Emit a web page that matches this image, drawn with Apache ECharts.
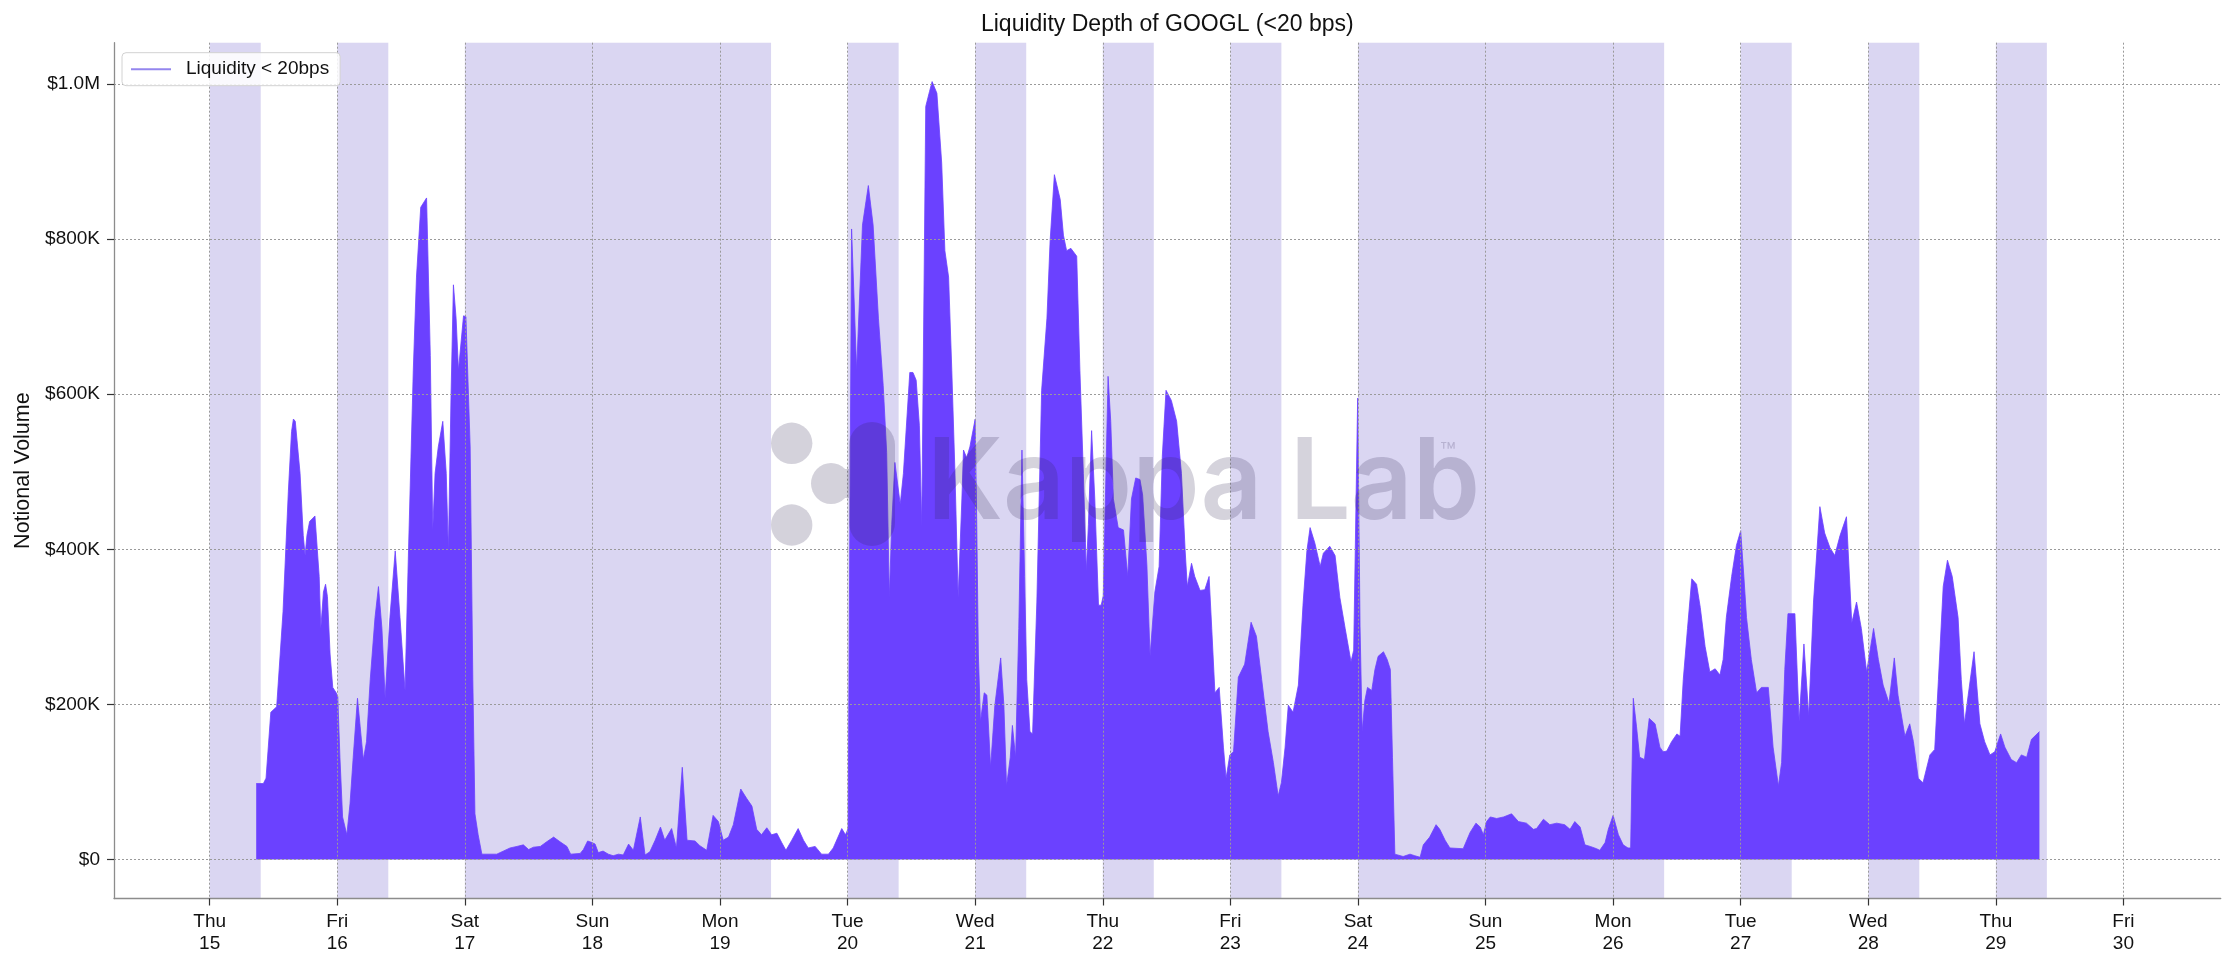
<!DOCTYPE html>
<html>
<head>
<meta charset="utf-8">
<script src="https://cdn.jsdelivr.net/npm/echarts@6/dist/echarts.min.js"></script>
<style>
html,body{margin:0;padding:0;background:#fff;}
#chart{width:2232px;height:969px;}
</style>
</head>
<body>
<div id="chart"></div>
<script>
// ---------- tick labels ----------
const dayNames = ['Thu','Fri','Sat','Sun','Mon','Tue','Wed','Thu','Fri','Sat','Sun','Mon','Tue','Wed','Thu','Fri'];
const dayNums  = ['15','16','17','18','19','20','21','22','23','24','25','26','27','28','29','30'];
const xTickHours = [0,24,48,72,96,120,144,168,192,216,240,264,288,312,336,360];
const yTickValues = [0,200000,400000,600000,800000,1000000];
const yTickLabels = ['$0','$200K','$400K','$600K','$800K','$1.0M'];

// shaded (closed-market) periods, hours since Thu 15 00:00
const closedBands = [[0,9.6],[24,33.6],[48,105.6],[120,129.6],[144,153.6],[168,177.6],
                     [192,201.6],[216,273.6],[288,297.6],[312,321.6],[336,345.6]];

// ---------- data: [hour of day, notional volume in $K] ----------
const thu15 = [[8.75,98],[10.1,98],[10.6,105],[11.5,190],[12.6,197],[13.8,320],[14.8,475],[15.4,552],[15.75,568],[16.1,565],[17.0,498],[17.6,418],[17.95,392],[18.3,418],[18.8,436],[19.8,443],[20.1,442],[20.6,365],[20.9,298],[21.4,345],[21.8,355],[22.15,339],[22.65,265],[23.15,222],[23.8,215]];
const fri16 = [[0.1,210],[0.5,132],[1.0,55],[1.8,32],[2.4,72],[3.0,132],[3.8,208],[4.3,172],[4.9,129],[5.5,152],[6.2,232],[7.1,312],[7.75,352],[8.4,298],[9.0,208],[9.9,312],[10.9,398],[11.8,312],[12.75,218],[13.4,398],[14.3,631],[14.9,751],[15.7,841],[16.8,853],[17.5,650],[17.96,425],[18.4,498],[19.0,532],[19.85,565],[20.5,498],[20.9,398],[21.4,598],[21.85,741],[22.35,698],[22.8,631],[23.75,701]];
const sat17 = [[0.2,700],[1.0,532],[1.5,232],[1.9,59],[2.5,32],[3.2,7],[6.0,7],[8.5,15],[9.8,17],[11.0,19],[12.0,13],[12.9,16],[14.2,17],[15.4,23],[16.7,29],[17.9,23],[19.2,17],[19.9,7],[21.7,8],[22.3,13],[23.1,24],[23.9,22]];
const sun18 = [[0.5,20],[1.1,9],[2.0,11],[3.0,7],[3.9,5],[4.9,7],[5.8,6],[6.8,20],[7.7,12],[9.0,55],[9.9,6],[10.8,10],[11.8,25],[12.8,42],[13.6,25],[14.9,40],[15.8,15],[16.9,119],[17.8,25],[19.3,24],[20.2,18],[21.5,12],[22.7,57],[23.7,49]];
const mon19 = [[0.6,25],[1.6,29],[2.5,45],[3.9,91],[5.0,79],[6.0,69],[6.9,39],[7.8,32],[8.8,41],[9.7,32],[10.7,34],[11.6,22],[12.4,12],[13.5,25],[14.7,40],[15.7,25],[16.6,15],[17.9,17],[19.1,7],[20.4,7],[21.3,15],[22.9,40],[23.6,32]];
const tue20 = [[0.1,40],[0.75,813],[1.7,631],[2.8,818],[3.9,869],[4.8,818],[5.8,698],[6.7,611],[7.35,525],[7.85,338],[8.3,432],[8.9,512],[9.9,458],[10.5,498],[11.7,628],[12.3,628],[12.9,618],[13.5,560],[13.95,430],[14.7,971],[15.4,990],[15.9,1003],[16.8,988],[17.7,898],[18.3,785],[19.0,751],[19.6,631],[20.2,498],[20.8,338],[21.5,465],[21.8,528],[22.4,518],[23.0,532]];
const wed21 = [[0.0,568],[0.3,432],[0.6,265],[1.0,178],[1.7,215],[2.2,212],[2.9,119],[3.7,199],[4.8,260],[5.4,199],[5.9,95],[6.6,132],[7.0,173],[7.6,132],[8.2,298],[8.8,528],[9.3,365],[9.7,232],[10.3,165],[10.8,162],[11.6,332],[12.5,605],[13.5,698],[14.1,798],[14.9,883],[16.0,851],[16.6,805],[17.2,785],[18.0,788],[19.1,778],[19.7,631],[20.35,498],[20.9,372],[21.3,432],[21.9,553],[22.5,465],[23.2,328],[23.7,328]];
const thu22 = [[0.1,340],[1.0,623],[1.5,565],[2.0,465],[2.9,428],[3.9,425],[4.7,365],[5.4,465],[6.2,492],[7.0,490],[7.5,470],[8.3,380],[8.9,262],[9.8,345],[10.6,378],[11.2,520],[11.9,605],[12.9,592],[13.9,565],[14.8,498],[15.5,398],[15.9,352],[16.7,382],[17.3,365],[18.3,347],[19.2,348],[20.0,365],[20.5,298],[21.1,215],[21.9,222],[22.7,145],[23.2,105],[23.9,135]];
const fri23 = [[0.6,139],[1.5,235],[2.7,252],[3.9,306],[4.9,288],[5.9,232],[7.1,165],[8.1,125],[9.0,82],[9.6,99],[10.3,145],[10.9,199],[11.8,190],[12.8,225],[13.7,332],[14.4,398],[15.0,428],[15.9,408],[16.9,378],[17.5,395],[18.7,404],[19.7,392],[20.6,338],[21.6,298],[22.7,255],[23.2,270],[23.95,595]];
const sat24 = [[0.4,300],[0.8,165],[1.3,205],[1.8,222],[2.6,218],[3.2,245],[3.8,262],[4.8,268],[5.5,258],[6.1,245],[6.5,132],[6.95,7],[8.5,4],[9.8,7],[10.7,5],[11.7,3],[12.3,19],[13.5,29],[14.7,45],[15.4,39],[16.4,25],[17.3,15],[19.8,14],[21.1,35],[22.2,47],[23.0,42],[23.6,32]];
const sun25 = [[0.2,49],[0.9,55],[2.1,53],[3.4,55],[4.9,59],[6.2,49],[7.7,47],[9.0,39],[9.6,40],[10.9,52],[12.1,45],[13.4,47],[14.9,45],[15.9,39],[16.8,49],[17.8,42],[18.7,19],[19.7,17],[20.9,14],[21.5,12],[22.5,22],[23.1,39]];
const mon26 = [[0.0,57],[1.0,32],[1.9,19],[2.8,15],[3.3,15],[3.8,208],[4.4,172],[5.0,132],[5.9,129],[6.8,182],[7.9,175],[8.8,145],[9.4,139],[10.1,140],[11.0,152],[12.0,162],[12.6,159],[13.2,232],[14.0,298],[14.8,362],[15.7,355],[16.4,325],[17.3,275],[18.2,242],[19.2,246],[20.1,238],[20.7,258],[21.3,312],[22.3,365],[23.2,405]];
const tue27 = [[0.0,424],[0.6,365],[1.1,312],[2.0,258],[3.0,215],[3.9,222],[5.2,222],[6.1,145],[7.1,95],[7.7,125],[8.3,245],[8.9,317],[10.2,317],[11.0,178],[11.9,278],[12.8,185],[13.7,332],[14.9,455],[15.8,421],[16.8,402],[17.7,392],[18.7,418],[19.9,442],[20.9,305],[21.8,332],[22.7,298],[23.7,242]];
const wed28 = [[1.0,298],[1.9,258],[2.8,225],[3.9,202],[4.9,260],[5.6,212],[6.9,159],[7.8,175],[8.5,152],[9.4,105],[10.3,99],[11.6,135],[12.5,142],[13.2,232],[14.1,352],[14.9,386],[15.8,365],[16.9,312],[17.5,232],[18.1,175],[18.8,212],[19.9,268],[21.0,175],[21.9,152],[22.9,135],[23.8,139]];
const thu29 = [[0.9,162],[1.7,145],[2.9,129],[3.9,125],[4.8,135],[5.8,132],[6.7,155],[8.2,165]];

const days = [thu15, fri16, sat17, sun18, mon19, tue20, wed21, thu22, fri23, sat24, sun25, mon26, tue27, wed28, thu29];
const seriesData = [];
days.forEach((arr, d) => arr.forEach(([h, v]) => seriesData.push([d * 24 + h, v * 1000])));

const FONT = 'Liberation Sans';
const X_MIN = -18, X_MAX = 378.3;
const Y_MIN = -50150, Y_MAX = 1053150;

const logoSvg = "<svg xmlns='http://www.w3.org/2000/svg' width='126' height='125' viewBox='0 0 126 125'>" +
  "<g fill='rgb(45,35,80)' opacity='0.2'>" +
  "<circle cx='20.7' cy='21.3' r='20.7'/>" +
  "<circle cx='20.7' cy='103' r='20.7'/>" +
  "<circle cx='101' cy='23' r='23'/>" +
  "<circle cx='101' cy='101' r='23'/>" +
  "<rect x='78' y='23' width='46' height='78'/>" +
  "<ellipse cx='60' cy='61.5' rx='20' ry='20.5'/>" +
  "<rect x='60' y='47' width='30' height='29'/>" +
  "</g></svg>";
const logoUrl = 'data:image/svg+xml;charset=utf-8,' + encodeURIComponent(logoSvg);

const chart = echarts.init(document.getElementById('chart'), null, { renderer: 'canvas' });
chart.setOption({
  animation: false,
  backgroundColor: '#ffffff',
  title: {
    text: 'Liquidity Depth of GOOGL (<20 bps)',
    left: 1167.3, top: 13, textAlign: 'center', padding: 0,
    textStyle: { fontFamily: FONT, fontSize: 23, fontWeight: 'normal', color: '#111' }
  },
  legend: {
    left: 122, top: 52.7,
    padding: [7, 11, 7, 9],
    itemWidth: 40, itemHeight: 2,
    icon: 'rect',
    backgroundColor: 'rgba(255,255,255,0.85)',
    borderColor: '#d2d2d2', borderWidth: 1, borderRadius: 4,
    textStyle: { fontFamily: FONT, fontSize: 19, color: '#111', padding: [0, 0, 0, 10] },
    data: [{ name: 'Liquidity < 20bps', itemStyle: { color: '#9486ee' } }]
  },
  grid: { left: 114, right: 11.3, top: 42.7, bottom: 70.5, containLabel: false },
  xAxis: {
    type: 'value', min: X_MIN, max: X_MAX, z: 3,
    axisLine: { show: true, onZero: false, lineStyle: { color: '#8c8c8c', width: 1.3 } },
    axisTick: { show: true, length: 7, customValues: xTickHours, lineStyle: { color: '#333', width: 1.2 } },
    axisLabel: {
      customValues: xTickHours, margin: 12, fontFamily: FONT, fontSize: 19, lineHeight: 22, color: '#111',
      formatter: v => { const i = Math.round(v / 24); return dayNames[i] + '\n' + dayNums[i]; }
    },
    splitLine: { show: true, lineStyle: { type: [2, 2], color: '#9a9a9a', width: 1 } }
  },
  yAxis: {
    type: 'value', min: Y_MIN, max: Y_MAX, z: 3,
    name: 'Notional Volume', nameLocation: 'middle', nameGap: 80,
    nameTextStyle: { fontFamily: FONT, fontSize: 21.5, color: '#111' },
    axisLine: { show: true, onZero: false, lineStyle: { color: '#8c8c8c', width: 1.3 } },
    axisTick: { show: true, length: 7, customValues: yTickValues, lineStyle: { color: '#333', width: 1.2 } },
    axisLabel: {
      customValues: yTickValues, margin: 14, fontFamily: FONT, fontSize: 19, color: '#111',
      formatter: v => { const i = yTickValues.indexOf(Math.round(v)); return i >= 0 ? yTickLabels[i] : ''; }
    },
    splitLine: { show: true, lineStyle: { type: [2, 2], color: '#9a9a9a', width: 1 } }
  },
  series: [{
    type: 'line', name: 'Liquidity < 20bps',
    data: seriesData, showSymbol: false, symbol: 'none', z: 2,
    lineStyle: { width: 0.8, color: '#6b41ff' },
    itemStyle: { color: '#6b41ff' },
    areaStyle: { color: '#6b41ff', opacity: 1 },
    markArea: {
      silent: true,
      itemStyle: { color: 'rgba(106,90,205,0.25)', borderWidth: 0 },
      data: closedBands.map(([s, e]) => [{ xAxis: s }, { xAxis: e }])
    }
  }],
  graphic: [
    { type: 'image', z: 100, silent: true, style: { image: logoUrl, x: 771, y: 422, width: 126, height: 125 } },
    { type: 'text', z: 100, silent: true, x: 927, y: 484.7, scaleX: 0.955,
      style: { text: 'Kappa Lab', x: 0, y: 0, fontFamily: 'Inter', fontWeight: 600, fontSize: 113, fill: 'rgba(45,35,80,0.2)', align: 'left', verticalAlign: 'middle' } },
    { type: 'text', z: 100, silent: true, style: { text: '™', x: 1440, y: 452.8, fontFamily: 'Inter', fontWeight: 400, fontSize: 26, fill: 'rgba(45,35,80,0.2)', align: 'left', verticalAlign: 'middle' } }
  ]
});
</script>
</body>
</html>
